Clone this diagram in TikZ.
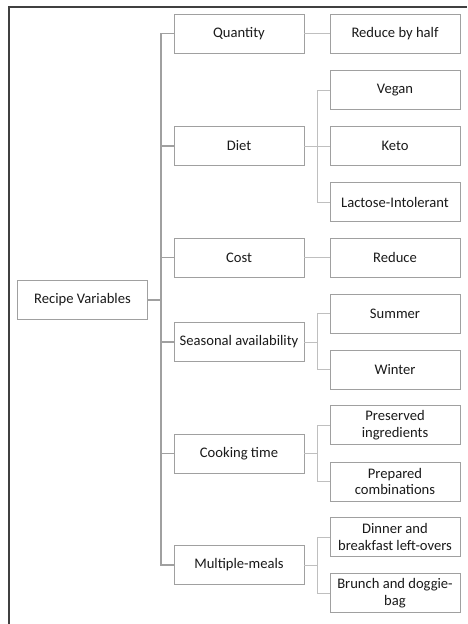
\documentclass[tikz,border=0pt]{standalone}
\usepackage{fontspec}
\setmainfont{Carlito}
\usepackage{tikz}
\usetikzlibrary{calc}
\definecolor{boxgray}{HTML}{A0A0A0}
\definecolor{linkgray}{HTML}{BFBFBF}
\definecolor{trunkgray}{HTML}{A0A0A0}
\definecolor{framegray}{HTML}{404040}
\definecolor{txtgray}{HTML}{1A1A1A}

\begin{document}
\begin{tikzpicture}[x=1pt, y=-1pt,
  varbox/.style={draw=boxgray, line width=0.9pt, fill=white, text=txtgray,
    minimum width=130pt, minimum height=39pt, inner sep=1pt, align=center,
    font=\fontsize{14.6}{16.5}\selectfont},
  link/.style={draw=linkgray, line width=1pt},
  trunk/.style={draw=trunkgray, line width=1.4pt}]
  \useasboundingbox (0,0) rectangle (467,624);
  \draw[framegray, line width=1.1pt] (9,624) -- (9,7) -- (467,7);

  % root and first level
  \node[varbox] (root) at (82.5,300) {Recipe Variables};
  \node[varbox] (qty) at (239,33.5) {Quantity};
  \node[varbox] (diet) at (239,146) {Diet};
  \node[varbox] (cost) at (239,257.5) {Cost};
  \node[varbox] (season) at (239,342) {Seasonal availability};
  \node[varbox] (cook) at (239,453.5) {Cooking time};
  \node[varbox] (meals) at (239,565) {Multiple-meals};

  % second level
  \node[varbox] (half) at (395,33.5) {Reduce by half};
  \node[varbox] (vegan) at (395,90) {Vegan};
  \node[varbox] (keto) at (395,146) {Keto};
  \node[varbox] (lactose) at (395,202) {Lactose-Intolerant};
  \node[varbox] (reduce) at (395,257.5) {Reduce};
  \node[varbox] (summer) at (395,313.5) {Summer};
  \node[varbox] (winter) at (395,369.5) {Winter};
  \node[varbox] (preserved) at (395,425) {Preserved\\ingredients};
  \node[varbox] (prepared) at (395,481.5) {Prepared\\combinations};
  \node[varbox] (dinner) at (395,537) {Dinner and\\breakfast left-overs};
  \node[varbox] (brunch) at (395,593) {Brunch and doggie-\\bag};

  % connectors
  \coordinate (rootjoin) at (161,300);
  \draw[trunk] (root.east) -- (rootjoin);
  \foreach \c in {qty,diet,cost,season,cook,meals}
    \draw[trunk] (rootjoin) |- (\c.west);

  \draw[link] (qty.east) -- (half.west);
  \draw[link] (cost.east) -- (reduce.west);

  \coordinate (dietjoin) at (317,146);
  \draw[link] (diet.east) -- (dietjoin);
  \foreach \c in {vegan,keto,lactose}
    \draw[link] (dietjoin) |- (\c.west);

  \coordinate (seasonjoin) at (317,342);
  \draw[link] (season.east) -- (seasonjoin);
  \foreach \c in {summer,winter}
    \draw[link] (seasonjoin) |- (\c.west);

  \coordinate (cookjoin) at (317,453.5);
  \draw[link] (cook.east) -- (cookjoin);
  \foreach \c in {preserved,prepared}
    \draw[link] (cookjoin) |- (\c.west);

  \coordinate (mealsjoin) at (317,565);
  \draw[link] (meals.east) -- (mealsjoin);
  \foreach \c in {dinner,brunch}
    \draw[link] (mealsjoin) |- (\c.west);
\end{tikzpicture}
\end{document}
